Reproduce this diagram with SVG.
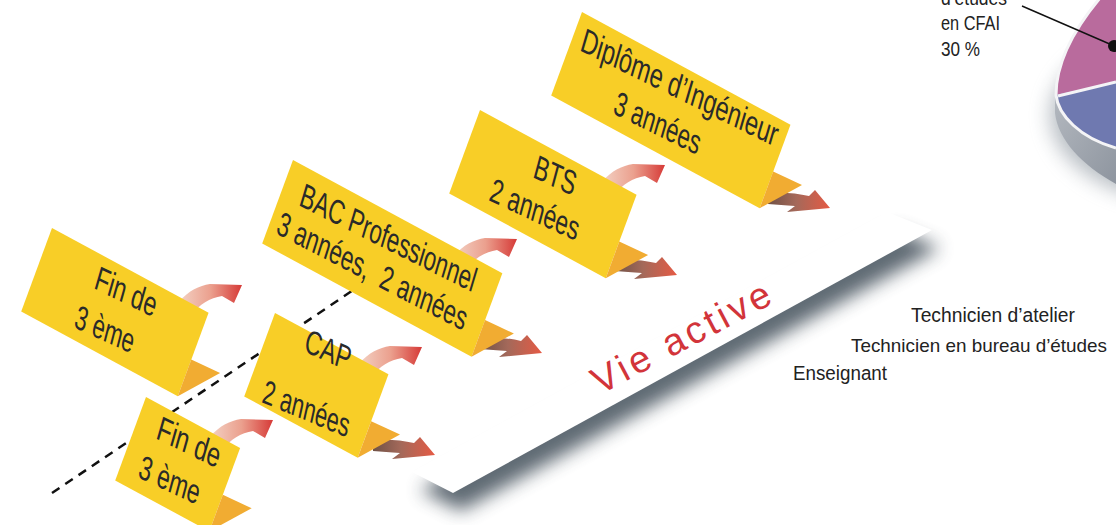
<svg xmlns="http://www.w3.org/2000/svg" xmlns:xlink="http://www.w3.org/1999/xlink" width="1116" height="525" viewBox="0 0 1116 525">
<defs>
<style>
.box{fill:#f8ce27}
.tent{fill:#f1ac32}
.lbl{font-family:"Liberation Sans",Arial,sans-serif;font-size:33px;fill:#2a2a2a}
.info{font-family:"Liberation Sans",Arial,sans-serif;font-size:20px;fill:#222}
.dash{stroke:#111;stroke-width:2.5;stroke-dasharray:9 7;fill:none}
.up{fill:url(#gUp)}
.down{fill:url(#gDown)}
</style>
<linearGradient id="gUp" x1="0" y1="0" x2="1" y2="0">
<stop offset="0" stop-color="#f3d2c4"/>
<stop offset="0.5" stop-color="#eba08e"/>
<stop offset="1" stop-color="#d63a37"/>
</linearGradient>
<linearGradient id="gDown" x1="0" y1="0" x2="1" y2="0">
<stop offset="0" stop-color="#6f5146"/>
<stop offset="0.45" stop-color="#a4695a"/>
<stop offset="1" stop-color="#e55a44"/>
</linearGradient>
<linearGradient id="gSide" x1="0" y1="0" x2="1" y2="1">
<stop offset="0" stop-color="#b3b8bf"/>
<stop offset="1" stop-color="#8e959f"/>
</linearGradient>
<filter id="blur" x="-20%" y="-30%" width="140%" height="160%">
<feGaussianBlur stdDeviation="9"/>
</filter>
<filter id="blur2" x="-30%" y="-30%" width="160%" height="160%">
<feGaussianBlur stdDeviation="10"/>
</filter>
<path id="upA" d="M-63,17 C-53,5 -43,1 -32,-1 L0,0 L-8,18 L-20,11 C-32,13 -43,19 -50,30 Z"/>
<path id="downA" d="M-62,-15 C-47,-16 -33,-15 -21,-12 L-15,-18 L0,0 L-43,4 L-35,-2 C-45,-3 -53,-3 -62,-4 Z"/>
</defs>
<rect width="1116" height="525" fill="#ffffff"/>

<!-- pie chart (partial) -->
<g id="pie">
<ellipse cx="1200" cy="115" rx="150" ry="90" fill="#7d8792" opacity="0.55" filter="url(#blur2)"/>
<path d="M1055,95 L1055,113 C1058,140 1082,165 1116,184 L1116,148 C1082,138 1060,118 1056,97 Z" fill="url(#gSide)"/>
<path d="M1100,-2 C1075,28 1056,62 1056,95 L1116,82 L1116,-2 Z" fill="#b96b9d"/>
<path d="M1056,95 C1058,115 1080,138 1116,148 L1116,82 Z" fill="#6f79b0"/>
<path d="M1100,-2 C1075,28 1056,62 1056,95 C1058,115 1080,138 1116,148" fill="none" stroke="#f4f4f6" stroke-width="3"/>
<line x1="1058" y1="96" x2="1116" y2="82" stroke="#f4f4f6" stroke-width="3"/>
</g>
<g id="pie-label">
<text class="info" x="941" y="5" textLength="66" lengthAdjust="spacingAndGlyphs">d’études</text>
<text class="info" x="941" y="30" textLength="59" lengthAdjust="spacingAndGlyphs">en CFAI</text>
<text class="info" x="941" y="56" textLength="39" lengthAdjust="spacingAndGlyphs">30 %</text>
<line x1="1022" y1="6" x2="1112" y2="45" stroke="#111" stroke-width="1.4"/>
<circle cx="1114" cy="46" r="6" fill="#111"/>
</g>

<!-- Vie active platform -->
<g id="vie-active">
<polygon points="420,490 461,511 940,248 895,230" fill="#56626c" opacity="0.95" filter="url(#blur)"/>
<polygon points="412,472 453,493 932,230 887,212" fill="#ffffff"/>
<text transform="translate(600,395) rotate(-27.9)" font-family="'Liberation Sans',Arial,sans-serif" font-size="38" fill="#d2343a" textLength="197" lengthAdjust="spacing">Vie active</text>
</g>

<g id="jobs">
<text class="info" x="911" y="322" textLength="164" lengthAdjust="spacingAndGlyphs">Technicien d’atelier</text>
<text class="info" x="851" y="352" font-size="19" style="font-size:19px" textLength="256" lengthAdjust="spacingAndGlyphs">Technicien en bureau d’études</text>
<text class="info" x="793" y="380" textLength="94" lengthAdjust="spacingAndGlyphs">Enseignant</text>
</g>

<!-- connectors -->
<g id="connectors">
<line class="dash" x1="52" y1="493" x2="380" y2="272"/>
<use href="#upA" xlink:href="#upA" class="up" transform="translate(242,285)"/>
<use href="#upA" xlink:href="#upA" class="up" transform="translate(273,420)"/>
<use href="#upA" xlink:href="#upA" class="up" transform="translate(422,347)"/>
<use href="#upA" xlink:href="#upA" class="up" transform="translate(517,239)"/>
<use href="#upA" xlink:href="#upA" class="up" transform="translate(665,165)"/>
<use href="#downA" xlink:href="#downA" class="down" transform="translate(435,455)"/>
<use href="#downA" xlink:href="#downA" class="down" transform="translate(542,353)"/>
<use href="#downA" xlink:href="#downA" class="down" transform="translate(677,275)"/>
<use href="#downA" xlink:href="#downA" class="down" transform="translate(830,208)"/>
</g>

<!-- nodes -->
<g id="fin3-top">
<g transform="matrix(0.8796 0.4756 -0.346 0.938 52 228)">
<rect class="box" width="178" height="89"/>
<polygon class="tent" points="178,50 210,48 178,89"/>
</g>
<text class="lbl" transform="translate(93,288) rotate(26) skewX(10)" textLength="67" lengthAdjust="spacingAndGlyphs">Fin de</text>
<text class="lbl" transform="translate(73,327) rotate(24.5) skewX(10)" textLength="64" lengthAdjust="spacingAndGlyphs">3 ème</text>
</g>

<g id="fin3-bottom">
<g transform="matrix(0.8796 0.4756 -0.346 0.938 146 397)">
<rect class="box" width="107" height="89"/>
<polygon class="tent" points="107,50 139,48 107,89"/>
</g>
<text class="lbl" transform="translate(155,438) rotate(26) skewX(10)" textLength="69" lengthAdjust="spacingAndGlyphs">Fin de</text>
<text class="lbl" transform="translate(137,477) rotate(25) skewX(10)" textLength="66" lengthAdjust="spacingAndGlyphs">3 ème</text>
</g>

<g id="cap">
<g transform="matrix(0.8796 0.4756 -0.346 0.938 275 313)">
<rect class="box" width="129" height="89"/>
<polygon class="tent" points="129,50 161,48 129,89"/>
</g>
<text class="lbl" transform="translate(303,351) rotate(24) skewX(10)" textLength="49" lengthAdjust="spacingAndGlyphs">CAP</text>
<text class="lbl" transform="translate(261,402) rotate(22.5) skewX(10)" textLength="93" lengthAdjust="spacingAndGlyphs">2 années</text>
</g>

<g id="bac-pro">
<g transform="matrix(0.8796 0.4756 -0.346 0.938 293 160)">
<rect class="box" width="238" height="89"/>
<polygon class="tent" points="238,50 270,48 238,89"/>
</g>
<text class="lbl" transform="translate(298,205) rotate(26.6) skewX(10)" textLength="195" lengthAdjust="spacingAndGlyphs">BAC Professionnel</text>
<text class="lbl" transform="translate(275,233) rotate(27.5) skewX(10)" textLength="212" lengthAdjust="spacingAndGlyphs" style="white-space:pre">3 années,  2 années</text>
</g>

<g id="bts">
<g transform="matrix(0.8796 0.4756 -0.346 0.938 480 110)">
<rect class="box" width="178" height="89"/>
<polygon class="tent" points="178,50 210,48 178,89"/>
</g>
<text class="lbl" transform="translate(532,177) rotate(25) skewX(10)" textLength="45" lengthAdjust="spacingAndGlyphs">BTS</text>
<text class="lbl" transform="translate(488,200) rotate(25) skewX(10)" textLength="97" lengthAdjust="spacingAndGlyphs">2 années</text>
</g>

<g id="diplome">
<g transform="matrix(0.8796 0.4756 -0.346 0.938 582 12)">
<rect class="box" width="237" height="89"/>
<polygon class="tent" points="237,50 269,48 237,89"/>
</g>
<text class="lbl" transform="translate(579,50) rotate(26.3) skewX(10)" textLength="218" lengthAdjust="spacingAndGlyphs">Diplôme d’Ingénieur</text>
<text class="lbl" transform="translate(612,113) rotate(26.3) skewX(10)" textLength="95" lengthAdjust="spacingAndGlyphs">3 années</text>
</g>
</svg>
